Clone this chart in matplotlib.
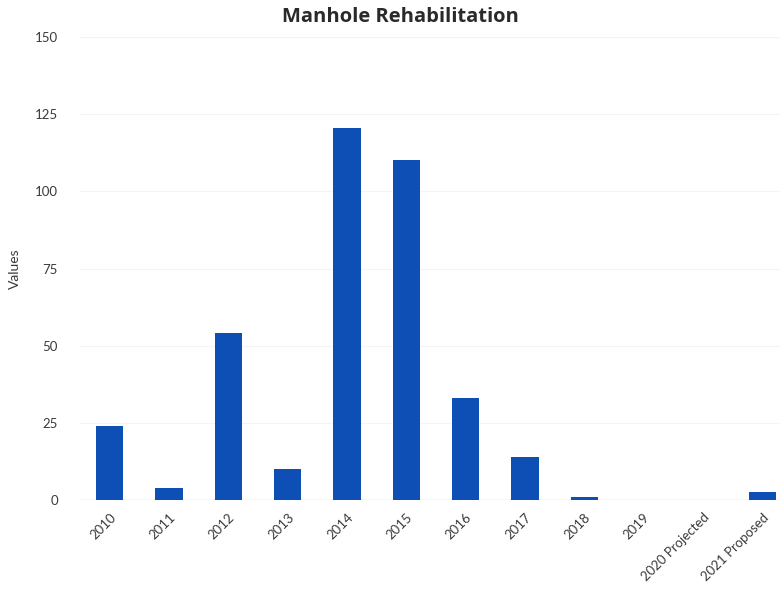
import numpy as np
import matplotlib.pyplot as plt

# Data
categories = ['2010', '2011', '2012', '2013', '2014', '2015', '2016', '2017',
              '2018', '2019', '2020 Projected', '2021 Proposed']
values = [24, 4, 54, 10, 120.5, 110, 33, 14, 1, 0, 0, 2.5]
y_ticks = [0, 25, 50, 75, 100, 125, 150]

plt.rcParams['font.family'] = ['Lato', 'DejaVu Sans']

fig = plt.figure(figsize=(7.8, 5.98), dpi=100)
ax = fig.add_axes([80 / 780, 1 - 500 / 598, 1 - 80 / 780, (500 - 37) / 598])

x = np.arange(len(categories))
ax.bar(x, values, width=0.46, color='#0d4fb4', zorder=3)

ax.set_ylim(0, 150)
ax.set_xlim(-0.5, 11.3)
ax.set_yticks(y_ticks)
ax.set_yticklabels([str(v) for v in y_ticks])
ax.set_xticks(x)
ax.set_xticklabels(categories, rotation=45, ha='right', rotation_mode='anchor')

ax.tick_params(axis='both', length=0, labelsize=9.5, colors='#3a3a3a')
ax.tick_params(axis='y', pad=16)
ax.tick_params(axis='x', pad=8)

for s in ax.spines.values():
    s.set_visible(False)
ax.grid(axis='y', color='#f4f4f4', linewidth=0.8, zorder=0)
ax.axhline(0, color='#dadada', linewidth=1, zorder=2)

ax.set_ylabel('Values', fontsize=10, color='#3a3a3a', labelpad=10)
fig.text(400 / 780, 1 - 17 / 598, 'Manhole Rehabilitation', ha='center', va='center',
         fontsize=14.5, fontweight='bold', color='#2a2a2a', family=['Open Sans', 'DejaVu Sans'])

plt.savefig('out.png', dpi=100)
